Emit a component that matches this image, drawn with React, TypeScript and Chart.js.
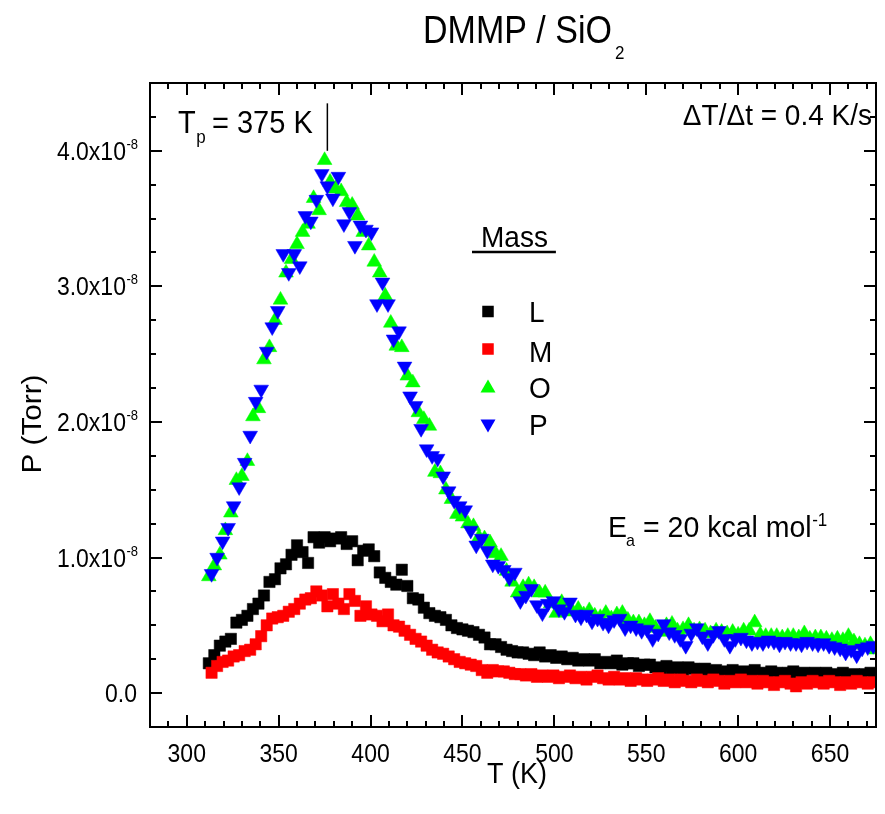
import React, { useEffect, useRef } from "react";
import { Chart, registerables } from "chart.js";

Chart.register(...registerables);

// Temperatures (K) of the L and O readings
const TEMP_A = [
  312, 315, 318, 321, 324, 327, 330, 333, 336, 339,
  342, 345, 348, 351, 354, 357, 360, 363, 366, 369,
  372, 375, 378, 381, 384, 387, 390, 393, 396, 399,
  402, 405, 408, 411, 414, 417, 420, 423, 426, 429,
  432, 435, 438, 441, 444, 447, 450, 453, 456, 459,
  462, 465, 468, 471, 474, 477, 480, 483, 486, 489,
  492, 495, 498, 501, 504, 507, 510, 513, 516, 519,
  522, 525, 528, 531, 534, 537, 540, 543, 546, 549,
  552, 555, 558, 561, 564, 567, 570, 573, 576, 579,
  582, 585, 588, 591, 594, 597, 600, 603, 606, 609,
  612, 615, 618, 621, 624, 627, 630, 633, 636, 639,
  642, 645, 648, 651, 654, 657, 660, 663, 666, 669,
  672, 675,
];

// Temperatures (K) of the M and P readings
const TEMP_B = [
  313.5, 316.5, 319.5, 322.5, 325.5, 328.5, 331.5, 334.5, 337.5, 340.5,
  343.5, 346.5, 349.5, 352.5, 355.5, 358.5, 361.5, 364.5, 367.5, 370.5,
  373.5, 376.5, 379.5, 382.5, 385.5, 388.5, 391.5, 394.5, 397.5, 400.5,
  403.5, 406.5, 409.5, 412.5, 415.5, 418.5, 421.5, 424.5, 427.5, 430.5,
  433.5, 436.5, 439.5, 442.5, 445.5, 448.5, 451.5, 454.5, 457.5, 460.5,
  463.5, 466.5, 469.5, 472.5, 475.5, 478.5, 481.5, 484.5, 487.5, 490.5,
  493.5, 496.5, 499.5, 502.5, 505.5, 508.5, 511.5, 514.5, 517.5, 520.5,
  523.5, 526.5, 529.5, 532.5, 535.5, 538.5, 541.5, 544.5, 547.5, 550.5,
  553.5, 556.5, 559.5, 562.5, 565.5, 568.5, 571.5, 574.5, 577.5, 580.5,
  583.5, 586.5, 589.5, 592.5, 595.5, 598.5, 601.5, 604.5, 607.5, 610.5,
  613.5, 616.5, 619.5, 622.5, 625.5, 628.5, 631.5, 634.5, 637.5, 640.5,
  643.5, 646.5, 649.5, 652.5, 655.5, 658.5, 661.5, 664.5, 667.5, 670.5,
  673.5,
];

// Pressures in units of 1e-8 Torr
const MASS_L = [
  0.22, 0.28, 0.35, 0.38, 0.40, 0.52, 0.54, 0.57, 0.62, 0.66,
  0.72, 0.82, 0.84, 0.92, 0.95, 1.02, 1.09, 1.04, 0.96, 1.15,
  1.11, 1.15, 1.12, 1.14, 1.15, 1.10, 1.12, 0.98, 1.05, 1.06,
  1.01, 0.89, 0.85, 0.82, 0.80, 0.91, 0.79, 0.70, 0.69, 0.63,
  0.59, 0.57, 0.56, 0.54, 0.50, 0.48, 0.47, 0.46, 0.45, 0.43,
  0.41, 0.36, 0.36, 0.34, 0.32, 0.31, 0.30, 0.30, 0.29, 0.28,
  0.30, 0.27, 0.28, 0.26, 0.27, 0.25, 0.26, 0.24, 0.25, 0.24,
  0.25, 0.22, 0.23, 0.22, 0.24, 0.21, 0.22, 0.22, 0.20, 0.21,
  0.21, 0.19, 0.18, 0.20, 0.18, 0.19, 0.17, 0.19, 0.18, 0.17,
  0.18, 0.16, 0.17, 0.15, 0.16, 0.17, 0.15, 0.16, 0.15, 0.17,
  0.15, 0.14, 0.16, 0.15, 0.14, 0.15, 0.16, 0.14, 0.15, 0.13,
  0.15, 0.14, 0.15, 0.13, 0.14, 0.15, 0.13, 0.14, 0.13, 0.14,
  0.15, 0.13,
];

const MASS_M = [
  0.15, 0.20, 0.23, 0.24, 0.27, 0.28, 0.31, 0.32, 0.36, 0.42,
  0.50, 0.55, 0.56, 0.57, 0.60, 0.62, 0.66, 0.69, 0.70, 0.75,
  0.72, 0.64, 0.73, 0.66, 0.62, 0.73, 0.68, 0.57, 0.64, 0.58,
  0.57, 0.53, 0.58, 0.50, 0.49, 0.46, 0.43, 0.40, 0.38, 0.35,
  0.32, 0.30, 0.29, 0.27, 0.25, 0.23, 0.22, 0.21, 0.20, 0.17,
  0.15, 0.17, 0.16, 0.16, 0.15, 0.14, 0.14, 0.13, 0.14, 0.12,
  0.13, 0.12, 0.13, 0.11, 0.12, 0.13, 0.11, 0.12, 0.10, 0.12,
  0.13, 0.11, 0.10, 0.12, 0.10, 0.11, 0.09, 0.11, 0.10, 0.09,
  0.10, 0.11, 0.09, 0.10, 0.08, 0.10, 0.09, 0.08, 0.10, 0.09,
  0.08, 0.10, 0.09, 0.07, 0.09, 0.08, 0.10, 0.08, 0.09, 0.07,
  0.09, 0.08, 0.06, 0.08, 0.09, 0.07, 0.05, 0.08, 0.07, 0.09,
  0.08, 0.07, 0.09, 0.08, 0.06, 0.08, 0.07, 0.09, 0.08, 0.07,
  0.08,
];

const MASS_O = [
  0.86, 0.94, 1.02, 1.20, 1.33, 1.57, 1.60, 1.71, 2.04, 2.10,
  2.46, 2.55, 2.75, 2.90, 3.10, 3.20, 3.31, 3.40, 3.46, 3.65,
  3.56, 3.93, 3.77, 3.72, 3.70, 3.62, 3.60, 3.52, 3.40, 3.30,
  3.18, 3.10, 2.93, 2.73, 2.56, 2.55, 2.34, 2.29, 2.07, 2.02,
  1.97, 1.63, 1.62, 1.50, 1.43, 1.32, 1.30, 1.25, 1.23, 1.15,
  1.14, 1.11, 1.03, 1.01, 0.90, 0.82, 0.74, 0.78, 0.80, 0.78,
  0.74, 0.74, 0.66, 0.59, 0.67, 0.63, 0.60, 0.62, 0.58, 0.61,
  0.57, 0.56, 0.59, 0.55, 0.58, 0.59, 0.54, 0.52, 0.52, 0.50,
  0.53, 0.48, 0.45, 0.50, 0.51, 0.46, 0.47, 0.50, 0.46, 0.47,
  0.46, 0.44, 0.46, 0.45, 0.44, 0.45, 0.43, 0.46, 0.46, 0.52,
  0.43, 0.42, 0.42, 0.42, 0.41, 0.42, 0.42, 0.41, 0.44, 0.40,
  0.41, 0.41, 0.40, 0.39, 0.40, 0.39, 0.42, 0.38, 0.36, 0.35,
  0.36, 0.32,
];

const MASS_P = [
  0.88, 1.00, 1.12, 1.22, 1.38, 1.52, 1.70, 1.90, 2.15, 2.24,
  2.52, 2.70, 2.82, 3.24, 3.10, 3.24, 3.15, 3.52, 3.48, 3.64,
  3.83, 3.74, 3.65, 3.81, 3.46, 3.55, 3.30, 3.45, 3.42, 3.40,
  2.87, 3.03, 2.87, 2.61, 2.67, 2.41, 2.19, 2.12, 1.95, 1.80,
  1.75, 1.73, 1.60, 1.49, 1.42, 1.38, 1.35, 1.20, 1.09, 1.14,
  1.05, 0.95, 0.94, 0.91, 0.85, 0.89, 0.68, 0.72, 0.77, 0.65,
  0.59, 0.66, 0.68, 0.62, 0.60, 0.67, 0.58, 0.56, 0.58, 0.53,
  0.55, 0.52, 0.50, 0.54, 0.55, 0.48, 0.50, 0.48, 0.46, 0.47,
  0.40, 0.44, 0.51, 0.45, 0.43, 0.40, 0.35, 0.44, 0.48, 0.42,
  0.37, 0.43, 0.46, 0.40, 0.35, 0.40, 0.41, 0.39, 0.37, 0.38,
  0.37, 0.39, 0.38, 0.36, 0.38, 0.37, 0.37, 0.36, 0.38, 0.37,
  0.36, 0.37, 0.35, 0.34, 0.33, 0.30, 0.32, 0.28, 0.33, 0.34,
  0.35,
];

const SERIES_NAMES = ["L", "M", "O", "P"];
const SERIES_COLORS = ["#000000", "#ff0000", "#00ff00", "#0000ff"];

const X_TICKS = [300, 350, 400, 450, 500, 550, 600, 650];
const X_TICK_LABELS = ["300", "350", "400", "450", "500", "550", "600", "650"];
const Y_TICKS = [0, 1, 2, 3, 4];
const Y_TICK_LABELS = ["0.0", "1.0x10", "2.0x10", "3.0x10", "4.0x10"];
const Y_TICK_EXP = "-8";

const X_MIN = 280;
const X_MAX = 675;
const Y_MIN = -0.25;
const Y_MAX = 4.5;

const PEAK_LABEL_T = "375 K";
const PEAK_MARK_T = 376.5;

const FONT = "'Liberation Sans', Arial, Helvetica, sans-serif";

function drawText(
  ctx: CanvasRenderingContext2D,
  s: string,
  x: number,
  y: number,
  size: number,
  align: CanvasTextAlign = "left",
  sy = 1
): number {
  ctx.save();
  ctx.font = `${size}px ${FONT}`;
  ctx.textAlign = align;
  ctx.textBaseline = "alphabetic";
  ctx.fillStyle = "#000";
  ctx.translate(x, y);
  ctx.scale(1, sy);
  ctx.fillText(s, 0, 0);
  const w = ctx.measureText(s).width;
  ctx.restore();
  return w;
}

function measure(ctx: CanvasRenderingContext2D, s: string, size: number) {
  ctx.save();
  ctx.font = `${size}px ${FONT}`;
  const w = ctx.measureText(s).width;
  ctx.restore();
  return w;
}

function drawMarker(ctx: CanvasRenderingContext2D, kind: number, x: number, y: number) {
  ctx.save();
  ctx.fillStyle = SERIES_COLORS[kind];
  if (kind < 2) {
    const s = 11.5;
    ctx.fillRect(x - s / 2, y - s / 2, s, s);
  } else {
    const w = 15;
    const h = 13;
    ctx.beginPath();
    if (kind === 2) {
      ctx.moveTo(x, y - h / 2);
      ctx.lineTo(x + w / 2, y + h / 2);
      ctx.lineTo(x - w / 2, y + h / 2);
    } else {
      ctx.moveTo(x, y + h / 2);
      ctx.lineTo(x + w / 2, y - h / 2);
      ctx.lineTo(x - w / 2, y - h / 2);
    }
    ctx.closePath();
    ctx.fill();
  }
  ctx.restore();
}

const decorPlugin = {
  id: "decor",
  afterDatasetsDraw(chart: any) {
    const ctx: CanvasRenderingContext2D = chart.ctx;
    const { left, right, top, bottom } = chart.chartArea;
    const xs = chart.scales.x;
    const ys = chart.scales.y;

    ctx.save();
    ctx.strokeStyle = "#000";
    ctx.lineWidth = 2;
    ctx.lineCap = "butt";

    // frame
    ctx.strokeRect(left, top, right - left, bottom - top);

    // x ticks (inward, bottom and top)
    for (let v = Math.ceil(X_MIN / 10) * 10; v <= X_MAX; v += 10) {
      const px = Math.round(xs.getPixelForValue(v));
      if (px <= left + 1 || px >= right - 1) continue;
      const major = v % 50 === 0;
      const len = major ? 12 : 6;
      ctx.beginPath();
      ctx.moveTo(px, bottom);
      ctx.lineTo(px, bottom - len);
      ctx.moveTo(px, top);
      ctx.lineTo(px, top + len);
      ctx.stroke();
    }
    // y ticks (inward, left and right)
    for (let i = Math.ceil(Y_MIN * 4); i <= Y_MAX * 4; i++) {
      const v = i / 4;
      const py = Math.round(ys.getPixelForValue(v));
      if (py <= top + 1 || py >= bottom - 1) continue;
      const major = i % 4 === 0;
      const len = major ? 12 : 6;
      ctx.beginPath();
      ctx.moveTo(left, py);
      ctx.lineTo(left + len, py);
      ctx.moveTo(right, py);
      ctx.lineTo(right - len, py);
      ctx.stroke();
    }
    ctx.restore();

    // x tick labels
    X_TICKS.forEach((v, i) => {
      drawText(ctx, X_TICK_LABELS[i], xs.getPixelForValue(v), bottom + 35, 23, "center", 1.1);
    });
    // y tick labels
    Y_TICKS.forEach((v, i) => {
      const py = ys.getPixelForValue(v);
      const labelRight = left - 12;
      if (v === 0) {
        drawText(ctx, Y_TICK_LABELS[i], labelRight - 1, py + 9, 23, "right", 1.12);
      } else {
        const supW = measure(ctx, Y_TICK_EXP, 13);
        drawText(ctx, Y_TICK_EXP, labelRight, py - 2, 13, "right", 1.1);
        drawText(ctx, Y_TICK_LABELS[i], labelRight - supW - 0.5, py + 9, 23, "right", 1.12);
      }
    });

    // axis titles
    drawText(ctx, "T (K)", (left + right) / 2 + 4, bottom + 56, 27, "center", 1.1);
    ctx.save();
    ctx.translate(41, (top + bottom) / 2 + 19);
    ctx.rotate(-Math.PI / 2);
    ctx.scale(1.1, 1);
    ctx.font = `27px ${FONT}`;
    ctx.textAlign = "center";
    ctx.textBaseline = "alphabetic";
    ctx.fillStyle = "#000";
    ctx.fillText("P (Torr)", 0, 0);
    ctx.restore();

    // chart title
    const tw = drawText(ctx, "DMMP / SiO", 423, 43, 34, "left", 1.15);
    drawText(ctx, "2", 423 + tw + 3, 59, 17, "left", 1.1);

    // peak temperature annotation
    const tpx = xs.getPixelForValue(PEAK_MARK_T);
    ctx.save();
    ctx.strokeStyle = "#000";
    ctx.lineWidth = 1.5;
    ctx.beginPath();
    ctx.moveTo(tpx, ys.getPixelForValue(4.0));
    ctx.lineTo(tpx, ys.getPixelForValue(4.35));
    ctx.stroke();
    ctx.restore();
    const tW = drawText(ctx, "T", 178, 133, 29, "left", 1.05);
    drawText(ctx, "p", 178 + tW + 0.5, 143, 17, "left", 1.05);
    drawText(ctx, "= " + PEAK_LABEL_T, 212, 133, 29, "left", 1.05);

    // heating rate
    drawText(ctx, "\u0394T/\u0394t = 0.4 K/s", 872, 125, 28, "right", 1.08);

    // activation energy
    drawText(ctx, "E", 608, 537, 28.5, "left", 1.05);
    drawText(ctx, "a", 626, 546, 16, "left", 1.05);
    const restW = drawText(ctx, "= 20 kcal mol", 643, 537, 28.5, "left", 1.05);
    drawText(ctx, "-1", 643 + restW + 0.5, 526, 17, "left", 1.05);

    // legend
    const mW = drawText(ctx, "Mass", 481, 247, 28, "left", 1.08);
    ctx.save();
    ctx.strokeStyle = "#000";
    ctx.lineWidth = 2.5;
    ctx.beginPath();
    ctx.moveTo(472, 252);
    ctx.lineTo(481 + mW + 8, 252);
    ctx.stroke();
    ctx.restore();
    const rowY = [311.5, 349, 386, 426];
    const labelBase = [321.7, 361.7, 398.3, 435];
    SERIES_NAMES.forEach((name, i) => {
      drawMarker(ctx, i, 488, rowY[i]);
      drawText(ctx, name, 529, labelBase[i], 28, "left", 1.08);
    });
  },
};

function pts(xs: number[], ys: number[]) {
  return ys.map((y, i) => ({ x: xs[i], y }));
}

export default function App() {
  const ref = useRef<HTMLCanvasElement | null>(null);

  useEffect(() => {
    if (!ref.current) return;
    const square = { pointStyle: "rect", pointRadius: 8, pointRotation: 0 };
    const up = { pointStyle: "triangle", pointRadius: 8.5, pointRotation: 0 };
    const down = { pointStyle: "triangle", pointRadius: 8.5, pointRotation: 180 };
    const mk = (i: number, data: any[], style: any, order: number) => ({
      label: SERIES_NAMES[i],
      data,
      showLine: false,
      backgroundColor: SERIES_COLORS[i],
      borderColor: SERIES_COLORS[i],
      pointBackgroundColor: SERIES_COLORS[i],
      pointBorderColor: SERIES_COLORS[i],
      pointBorderWidth: 0.5,
      order,
      ...style,
    });
    const chart = new Chart(ref.current, {
      type: "scatter",
      data: {
        datasets: [
          mk(0, pts(TEMP_A, MASS_L), square, 3),
          mk(1, pts(TEMP_B, MASS_M), square, 2),
          mk(2, pts(TEMP_A, MASS_O), up, 1),
          mk(3, pts(TEMP_B, MASS_P), down, 0),
        ],
      },
      options: {
        animation: false,
        responsive: false,
        devicePixelRatio: 1,
        events: [],
        layout: { padding: { left: 150, right: 5, top: 83, bottom: 87 } },
        scales: {
          x: { type: "linear", min: X_MIN, max: X_MAX, display: false },
          y: { type: "linear", min: Y_MIN, max: Y_MAX, display: false },
        },
        plugins: {
          legend: { display: false },
          tooltip: { enabled: false },
          title: { display: false },
        },
      } as any,
      plugins: [decorPlugin],
    });
    return () => chart.destroy();
  }, []);

  return (
    <div style={{ position: "absolute", left: 0, top: 0, width: 885, height: 814, background: "#fff" }}>
      <canvas ref={ref} width={885} height={814} style={{ display: "block", width: 885, height: 814 }} />
    </div>
  );
}
